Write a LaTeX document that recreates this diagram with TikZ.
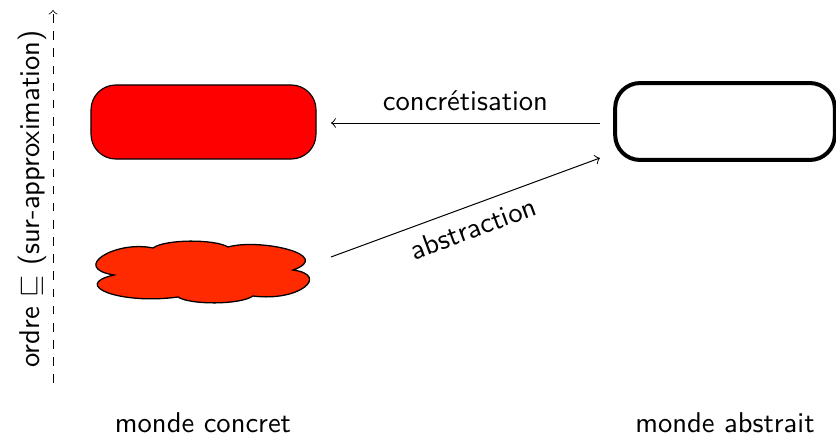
\documentclass[tikz,border=0pt]{standalone}
\usepackage{amssymb}
\definecolor{cloudred}{RGB}{255,42,0}
\begin{document}
\begin{tikzpicture}[x=0.3497pt,y=-0.3497pt,
  every node/.style={font=\sffamily},
  lbl/.style={inner sep=0pt},
  arr/.style={->, line width=0.35pt}]
\useasboundingbox (0,0) rectangle (836,436);
% axis
\coordinate (axb) at (53,383);
\coordinate (axt) at (53,10);
\draw[dashed,->, line width=0.28pt] (axb) -- (axt);
\node[lbl, rotate=90, anchor=center] (ordre) at (32,199) {ordre $\sqsubseteq$ (sur-approximation)};
% concrete box
\node[draw=black, fill=red, rounded corners=8.7pt, minimum width=78.7pt, minimum height=25.9pt, line width=0.4pt, inner sep=0pt] (conc) at (203.5,122) {};
% cloud
\draw[fill=cloudred, line width=0.45pt]
  (114,275) .. controls (70,268) and (115,240) .. (153,248)
  .. controls (165,239) and (215,239) .. (228,247)
  .. controls (260,238) and (335,255) .. (293,270)
  .. controls (330,275) and (300,302) .. (253,296)
  .. controls (240,305) and (190,305) .. (178,297)
  .. controls (120,305) and (70,285) .. (114,275) -- cycle;
\node[lbl, minimum width=77pt, minimum height=21pt] (cloud) at (203,272) {};
% abstract box
\node[draw=black, fill=white, rounded corners=8.7pt, minimum width=76.8pt, minimum height=26.9pt, line width=1.4pt, inner sep=0pt] (abs) at (725,121.5) {};
% arrows
\coordinate (cs) at (600,123);
\coordinate (ce) at (331,123);
\draw[arr] (cs) -- node[lbl, above=4pt] (clab) {concrétisation} (ce);
\coordinate (as) at (331,257);
\coordinate (ae) at (600,158);
\draw[arr] (as) -- node[lbl, sloped, below=4pt] (alab) {abstraction} (ae);
% bottom labels
\node[lbl, anchor=base] (mc) at (203,432) {monde concret};
\node[lbl, anchor=base] (ma) at (725,432) {monde abstrait};
\end{tikzpicture}
\end{document}
